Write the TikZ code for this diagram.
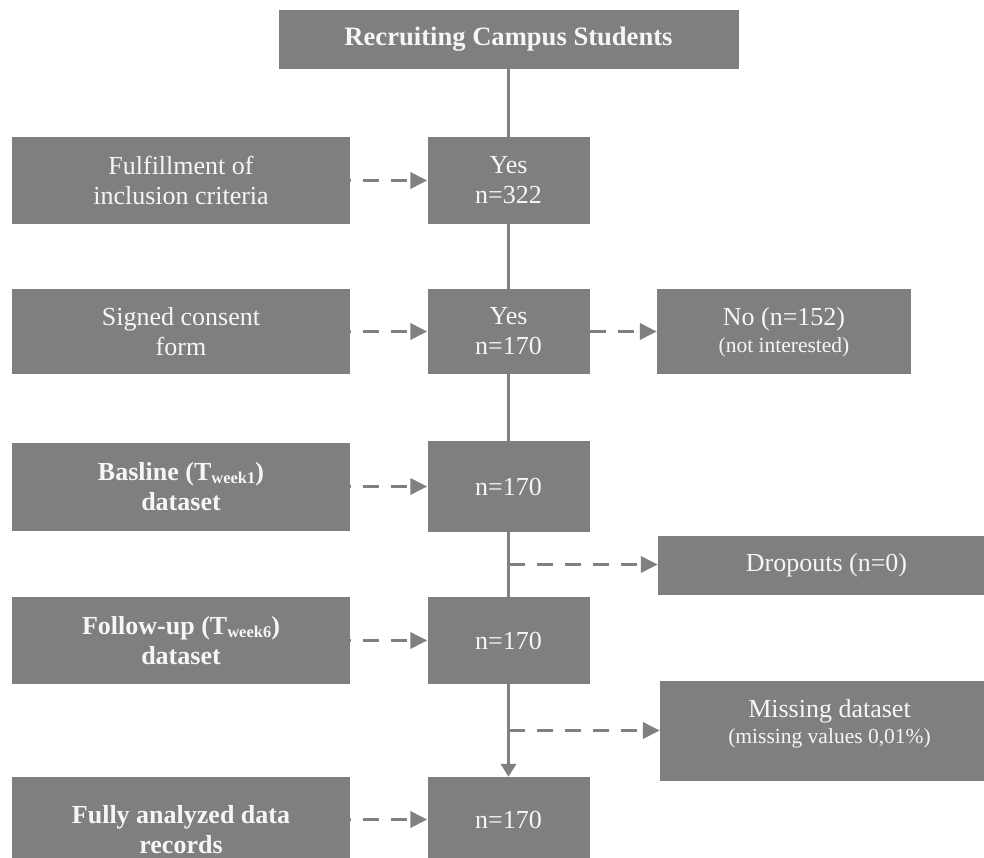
\documentclass[tikz,border=0pt]{standalone}
\usepackage{fontspec}
\setmainfont{Liberation Serif}
\usetikzlibrary{arrows.meta,calc}

\definecolor{boxgray}{RGB}{127,127,127}
\definecolor{linegray}{RGB}{128,128,128}
\definecolor{ink}{RGB}{246,246,246}

% lowered, smaller "week" index after a T
\newcommand{\wkidx}[1]{\raisebox{-3pt}{\fontsize{16.5}{16.5}\selectfont #1}}

\begin{document}
\begin{tikzpicture}[x=1pt,y=-1pt,
  box/.style={fill=boxgray, draw=none, inner sep=0pt, align=center, text=ink,
              font=\fontsize{26}{30}\selectfont},
  boldbox/.style={box, font=\bfseries\fontsize{26}{30}\selectfont},
  leftbox/.style={minimum width=338pt},
  midbox/.style={minimum width=162pt},
  plain/.style={text=ink, inner sep=0pt, font=\fontsize{26}{30}\selectfont},
  note/.style={text=ink, inner sep=0pt, font=\fontsize{21.5}{26}\selectfont},
  trunk/.style={draw=linegray, line width=3.5pt},
  dashlink/.style={draw=linegray, line width=3.5pt, dash pattern=on 16pt off 12pt,
                   -{Triangle[length=17pt,width=16pt]}},
]
\useasboundingbox (0,0) rectangle (984,858);
\clip (0,0) rectangle (984,858);

% top box
\node[boldbox, minimum width=460pt, minimum height=59pt,
      font=\bfseries\fontsize{26.6}{30}\selectfont] (recruit) at (508.5,39.5) {Recruiting Campus Students};

% left column
\node[box, leftbox, minimum height=87pt] (crit) at (181,180.5) {Fulfillment of\\inclusion criteria};
\node[box, leftbox, minimum height=85pt] (consent) at (181,331.5) {Signed consent\\form};
\node[boldbox, leftbox, minimum height=88pt] (base) at (181,486.5) {Basline (T\wkidx{week1})\\dataset};
\node[boldbox, leftbox, minimum height=87pt] (follow) at (181,640.5) {Follow-up (T\wkidx{week6})\\dataset};
\node[boldbox, leftbox, minimum height=106pt] (full) at (181,830) {Fully analyzed data\\records};

% middle column
\node[box, midbox, minimum height=87pt] (yes1) at (508.5,180.5) {Yes\\n=322};
\node[box, midbox, minimum height=85pt] (yes2) at (508.5,331.5) {Yes\\n=170};
\node[box, midbox, minimum height=91pt] (n3) at (508.5,486.5) {n=170};
\node[box, midbox, minimum height=87pt] (n4) at (508.5,640.5) {n=170};
\node[box, midbox, minimum height=85pt] (n5) at (508.5,819.5) {n=170};

% right column
\node[box, minimum width=254pt, minimum height=85pt] (no) at (784,331.5) {};
\node[plain, anchor=base] (notitle) at (784,325) {No (n=152)};
\node[note, anchor=base] (nonote) at (784,352) {(not interested)};

\node[box, minimum width=337pt, minimum height=59pt] (drop) at (826.5,565.5) {Dropouts (n=0)};

\node[box, minimum width=339pt, minimum height=100pt] (miss) at (829.5,731) {};
\node[plain, anchor=base] (misstitle) at (829.5,717) {Missing dataset};
\node[note, anchor=base] (missnote) at (829.5,743) {(missing values 0,01\%)};

% main flow
\draw[trunk] (recruit) -- (yes1);
\draw[trunk] (yes1) -- (yes2);
\draw[trunk] (yes2) -- (n3);
\draw[trunk] (n3) -- (n4);
\draw[trunk, -{Triangle[length=13pt,width=15pt]}] (n4) -- (n5);

% criteria feeding the flow
\draw[dashlink, dash phase=15pt] (crit) -- (yes1);
\draw[dashlink, dash phase=15pt] (consent) -- (yes2);
\draw[dashlink, dash phase=15pt] (base) -- (n3);
\draw[dashlink, dash phase=15pt] (follow) -- (n4);
\draw[dashlink, dash phase=15pt] (full.east |- n5.west) -- (n5.west);

% exits
\draw[dashlink] (yes2) -- (no);
\coordinate (split1) at ($(n3.south)!0.5!(n4.north)$);
\coordinate (split2) at ($(n4.south)!0.5!(n5.north)$);
\draw[dashlink] (split1) -- (split1 -| drop.west);
\draw[dashlink] (split2) -- (split2 -| miss.west);
\end{tikzpicture}
\end{document}
